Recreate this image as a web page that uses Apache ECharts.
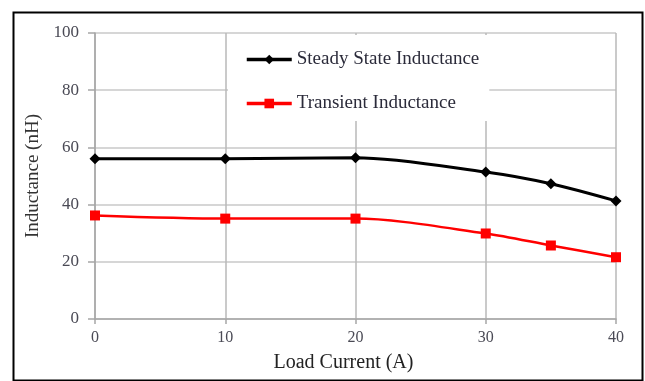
<!DOCTYPE html>
<html>
<head>
<meta charset="utf-8">
<script src="https://cdn.jsdelivr.net/npm/echarts@6/dist/echarts.min.js"></script>
<style>
html,body{margin:0;padding:0;background:#fff;}
#c{width:645px;height:381px;}
</style>
</head>
<body>
<div id="c"></div>
<script>
const loadCurrent = [0, 10, 20, 30, 35, 40];
const steadyState = [56.0, 56.0, 56.4, 51.4, 47.3, 41.3];
const transient = [36.2, 35.1, 35.1, 29.9, 25.7, 21.6];
const seriesNames = ['Steady State Inductance', 'Transient Inductance'];
const xTitle = 'Load Current (A)';
const yTitle = 'Inductance (nH)';

const font = 'Liberation Serif';
const chart = echarts.init(document.getElementById('c'), null, {renderer: 'canvas'});
chart.setOption({
  animation: false,
  backgroundColor: '#fff',
  grid: {left: 95, right: 29, top: 33, bottom: 62},
  graphic: [{
    type: 'rect', left: 11, top: 10, z: -1,
    shape: {width: 629, height: 368},
    style: {fill: 'none', stroke: '#000', lineWidth: 2}
  }],
  legend: {
    orient: 'vertical', left: 228, top: 35,
    padding: [15, 10, 8, 17],
    itemGap: 25, itemWidth: 45, itemHeight: 12,
    backgroundColor: '#fff',
    data: seriesNames,
    lineStyle: {width: 3.5},
    textStyle: {fontFamily: font, fontSize: 19, color: '#2b2b3a'}
  },
  xAxis: {
    type: 'value', min: 0, max: 40, interval: 10,
    name: xTitle, nameLocation: 'middle', nameGap: 34,
    nameTextStyle: {fontFamily: font, fontSize: 20, color: '#222', padding: [0, 24, 0, 0]},
    axisLine: {show: true, lineStyle: {color: '#a6a6a6', width: 1.5}},
    axisTick: {show: true, length: 5, lineStyle: {color: '#a6a6a6', width: 1.5}},
    axisLabel: {fontFamily: font, fontSize: 16, color: '#4a4a55', margin: 11},
    splitLine: {show: true, lineStyle: {color: '#b8b8b8', width: 1.5}}
  },
  yAxis: {
    type: 'value', min: 0, max: 100, interval: 20,
    name: yTitle, nameLocation: 'middle', nameGap: 48, nameRotate: 90,
    nameTextStyle: {fontFamily: font, fontSize: 19, color: '#333'},
    axisLine: {show: true, lineStyle: {color: '#a6a6a6', width: 1.5}},
    axisTick: {show: true, length: 7, lineStyle: {color: '#a6a6a6', width: 1.5}},
    axisLabel: {fontFamily: font, fontSize: 17, color: '#4a4a55', margin: 16},
    splitLine: {show: true, lineStyle: {color: '#c8c8c8', width: 1.5}}
  },
  series: [{
    name: seriesNames[0], type: 'line', smooth: 0.3,
    data: loadCurrent.map((x, i) => [x, steadyState[i]]),
    symbol: 'diamond', symbolSize: 11,
    lineStyle: {color: '#000', width: 3},
    itemStyle: {color: '#000'}
  }, {
    name: seriesNames[1], type: 'line', smooth: 0.3,
    data: loadCurrent.map((x, i) => [x, transient[i]]),
    symbol: 'rect', symbolSize: 10,
    lineStyle: {color: '#f00', width: 2.5},
    itemStyle: {color: '#f00'}
  }]
});
</script>
</body>
</html>
